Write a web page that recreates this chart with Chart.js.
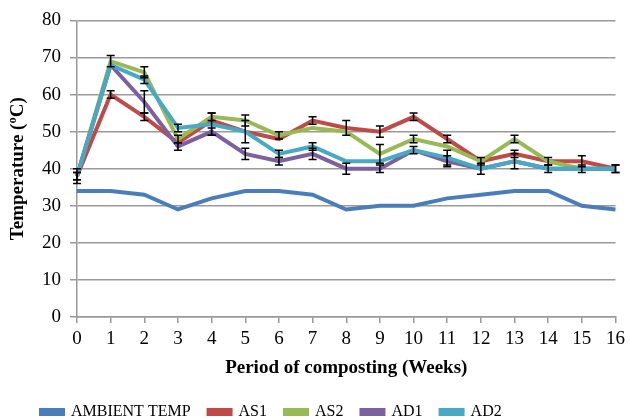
<!DOCTYPE html>
<html>
<head>
<meta charset="utf-8">
<script src="https://cdn.jsdelivr.net/npm/chart.js@4/dist/chart.umd.min.js"></script>
<style>
  html, body { margin: 0; padding: 0; background: #fff; }
  #wrap { width: 630px; height: 420px; }
</style>
</head>
<body>
<div id="wrap"><canvas id="myChart"></canvas></div>
<script>
  'use strict'

  const weeks = ['0', '1', '2', '3', '4', '5', '6', '7', '8', '9', '10', '11', '12', '13', '14', '15', '16']

  const ambient = [34, 34, 33, 29, 32, 34, 34, 33, 29, 30, 30, 32, 33, 34, 34, 30, 29]
  const as1 = [38, 60, 54, 47, 53, 50, 48, 53, 51, 50, 54, 48, 42, 44, 42, 42, 40]
  const as2 = [38, 69, 66, 48, 54, 53, 49, 51, 50, 44, 48, 46, 42, 48, 42, 40, 40]
  const ad1 = [38, 68, 58, 46, 50, 44, 42, 44, 40, 40, 45, 42, 40, 42, 40, 40, 40]
  const ad2 = [38, 68, 64, 51, 52, 50, 44, 46, 42, 42, 45, 43, 40, 42, 40, 40, 40]

  // standard errors
  const as1Err = [1, 1, 1, 0, 0, 0, 0, 1, 2, 1.5, 1, 1, 0, 1, 0, 1.5, 1]
  const as2Err = [0, 1.5, 1.5, 1, 1, 1.5, 1, 0, 0, 2.5, 1, 0, 1, 1, 1, 0, 0]
  const ad1Err = [2, 0, 3, 1, 1, 1.5, 1, 1.5, 1.5, 1, 0, 1.5, 0, 0, 0, 0, 0]
  const ad2Err = [1, 0, 1, 1, 3, 3, 1, 1, 0, 0, 1, 2, 1.5, 2, 1, 1, 1]

  const serif = "'Liberation Serif', 'Times New Roman', serif"

  const mkSet = (label, data, color, order, err) => ({
    label,
    data,
    err,
    order,
    borderColor: color,
    backgroundColor: color,
    borderWidth: 4,
    pointRadius: 0,
    lineTension: 0,
    fill: false
  })

  const errorBars = {
    id: 'errorBars',
    afterDatasetsDraw(chart) {
      const { ctx, scales: { y } } = chart
      ctx.save()
      ctx.strokeStyle = '#000'
      ctx.lineWidth = 1.5
      chart.data.datasets.forEach((ds, i) => {
        if (!ds.err) return
        const meta = chart.getDatasetMeta(i)
        meta.data.forEach((pt, j) => {
          const e = ds.err[j]
          if (!e) return
          const top = y.getPixelForValue(ds.data[j] + e)
          const bot = y.getPixelForValue(ds.data[j] - e)
          ctx.beginPath()
          ctx.moveTo(pt.x, top); ctx.lineTo(pt.x, bot)
          ctx.moveTo(pt.x - 4, top); ctx.lineTo(pt.x + 4, top)
          ctx.moveTo(pt.x - 4, bot); ctx.lineTo(pt.x + 4, bot)
          ctx.stroke()
        })
      })
      ctx.restore()
    }
  }

  // nudge the legend a little to the right, like the original
  const legendShift = {
    id: 'legendShift',
    afterLayout(chart) {
      chart.legend.left += 16
      chart.legend.right += 16
    }
  }

  const ctx = document.getElementById('myChart')
  // eslint-disable-next-line no-unused-vars
  const myChart = new Chart(ctx, {
    type: 'line',
    data: {
      labels: weeks,
      datasets: [
        mkSet('AMBIENT TEMP', ambient, '#4A7EBB', 4, null),
        mkSet('AS1', as1, '#BE4B48', 3, as1Err),
        mkSet('AS2', as2, '#98B954', 2, as2Err),
        mkSet('AD1', ad1, '#7D60A0', 1, ad1Err),
        mkSet('AD2', ad2, '#46AAC5', 0, ad2Err)
      ]
    },
    plugins: [errorBars, legendShift],
    options: {
      responsive: true,
      maintainAspectRatio: false,
      animation: false,
      layout: { padding: { left: 7, right: 11, top: 8, bottom: -10 } },
      scales: {
        x: {
          offset: false,
          afterFit: (s) => { s.height = 69 },
          grid: { display: true, drawOnChartArea: false, tickLength: 6, color: '#999', lineWidth: 1.5 },
          border: { color: '#999', width: 1.5 },
          ticks: { color: '#000', font: { family: serif, size: 19 }, maxRotation: 0, padding: 5 },
          title: {
            display: true,
            text: 'Period of composting (Weeks)',
            color: '#000',
            font: { family: serif, size: 19, weight: 'bold' },
            padding: { top: 4, bottom: 7 }
          }
        },
        y: {
          min: 0,
          max: 80,
          afterFit: (s) => { s.width = 70 },
          ticks: { stepSize: 10, color: '#000', font: { family: serif, size: 19 }, padding: 9 },
          grid: { color: '#9a9a9a', lineWidth: 1.5, tickLength: 7 },
          border: { color: '#999', width: 1.5 },
          title: {
            display: true,
            text: 'Temperature (ºC)',
            color: '#000',
            font: { family: serif, size: 19, weight: 'bold' },
            padding: { top: 0, bottom: 4 }
          }
        }
      },
      plugins: {
        legend: {
          position: 'bottom',
          align: 'start',
          labels: {
            color: '#000',
            font: { family: serif, size: 16 },
            boxWidth: 22,
            boxHeight: 4,
            padding: 18,
            sort: (a, b) => a.datasetIndex - b.datasetIndex
          }
        },
        tooltip: { enabled: false }
      }
    }
  })
</script>
</body>
</html>
